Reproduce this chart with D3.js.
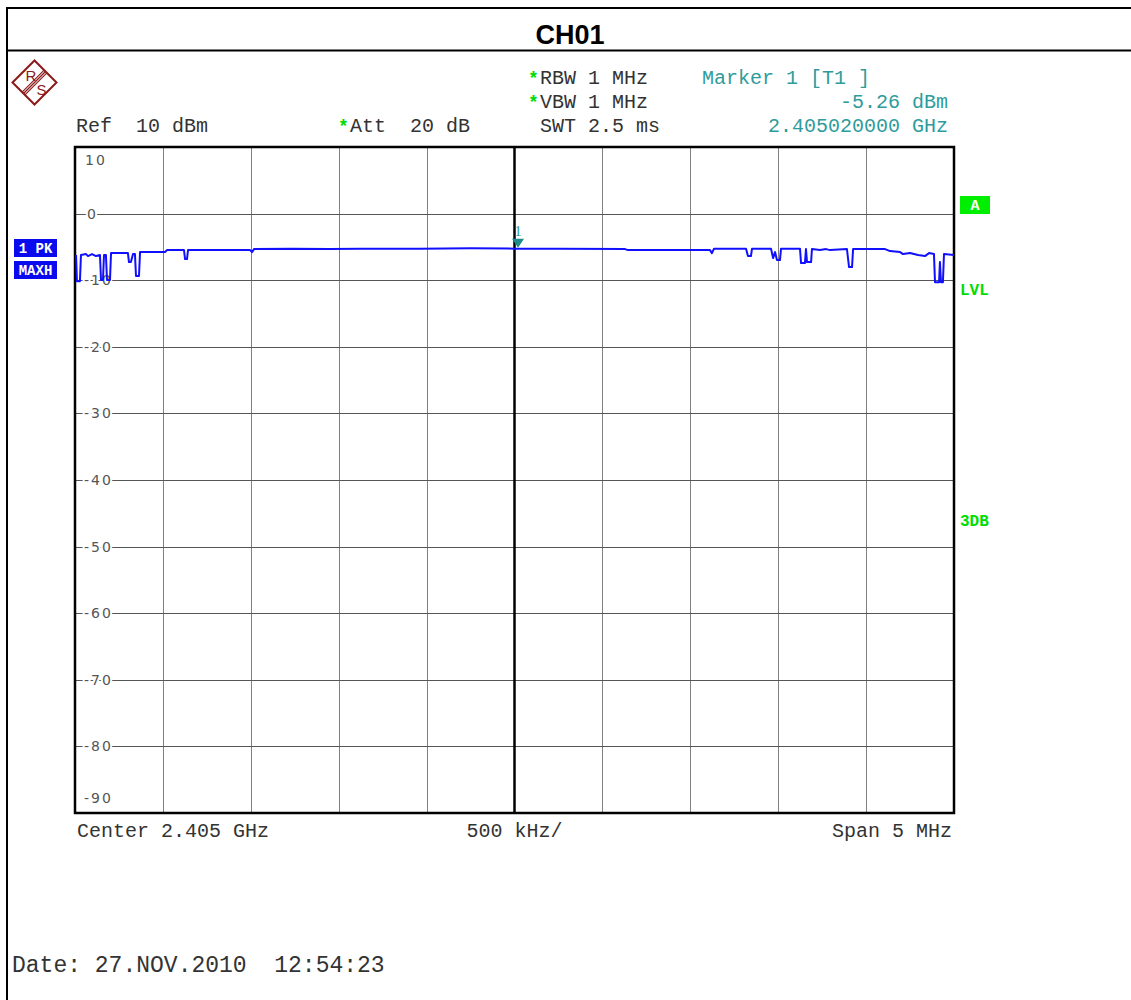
<!DOCTYPE html>
<html>
<head>
<meta charset="utf-8">
<script src="https://cdn.jsdelivr.net/npm/d3@7"></script>
<style>
  body { margin: 0; background: #fff; }
  svg { display: block; }
  text { white-space: pre; }
</style>
</head>
<body>
<svg id="chart" width="1131" height="1000"></svg>
<script>
// trace: frequency offset from center (MHz) and level (dBm)
const traceFreq = [
  -2.494, -2.489, -2.472, -2.466, -2.437, -2.426, -2.403, -2.381, -2.358, -2.352,
  -2.341, -2.335, -2.324, -2.318, -2.301, -2.295, -2.199, -2.193, -2.182, -2.170,
  -2.159, -2.153, -2.136, -2.130, -1.988, -1.976, -1.880, -1.874, -1.863, -1.857,
  -1.504, -1.493, -1.482, -1.270, -1.050, -0.880, -0.540, -0.250, 0.003,
  0.259, 0.629, 0.646, 0.941, 1.112, 1.123, 1.135, 1.317, 1.328, 1.345,
  1.351, 1.459, 1.471, 1.482, 1.493, 1.510, 1.516, 1.624, 1.630, 1.652,
  1.658, 1.664, 1.687, 1.692, 1.738, 1.772, 1.795, 1.891, 1.903, 1.920,
  1.926, 2.108, 2.136, 2.193, 2.210, 2.250, 2.295, 2.335, 2.358, 2.386,
  2.392, 2.415, 2.420, 2.426, 2.437, 2.443, 2.500
];
const traceLevel = [
  -6.23, -10.14, -10.14, -6.23, -6.08, -6.38, -6.08, -6.38, -6.23, -9.98,
  -9.98, -6.23, -6.23, -9.98, -9.98, -5.93, -5.93, -7.28, -7.28, -6.08,
  -6.08, -9.38, -9.38, -5.78, -5.78, -5.48, -5.48, -6.83, -6.83, -5.48,
  -5.48, -5.78, -5.33, -5.26, -5.33, -5.26, -5.26, -5.22, -5.26,
  -5.26, -5.33, -5.48, -5.48, -5.48, -5.93, -5.26, -5.26, -6.38, -6.38,
  -5.26, -5.26, -6.68, -5.78, -6.98, -6.98, -5.26, -5.26, -7.43, -7.43,
  -5.33, -7.28, -7.28, -5.33, -5.48, -5.33, -5.48, -5.33, -8.03, -8.03,
  -5.33, -5.33, -5.63, -5.78, -6.08, -5.93, -6.23, -6.38, -5.93, -6.08,
  -10.29, -10.29, -7.28, -10.29, -10.29, -6.08, -6.23
];

const gridFreq = [-2, -1.5, -1, -0.5, 0.5, 1, 1.5, 2];
const gridLevel = [0, -10, -20, -30, -40, -50, -60, -70, -80];
const levelLabels = [10, 0, -10, -20, -30, -40, -50, -60, -70, -80, -90];

const markerFreq = 0.02;
const markerLevel = -5.26;

const headerRows = [
  { star: false, x: 76, text: 'Ref  10 dBm', row: 2 },
  { star: true, x: 350, text: 'Att  20 dB', row: 2 },
  { star: true, x: 540, text: 'RBW 1 MHz', row: 0 },
  { star: true, x: 540, text: 'VBW 1 MHz', row: 1 },
  { star: false, x: 540, text: 'SWT 2.5 ms', row: 2 }
];
const markerInfo = ['Marker 1 [T1 ]', '-5.26 dBm', '2.405020000 GHz'];

const MONO = '"Courier New", "Liberation Mono", monospace';
const svg = d3.select('#chart');

const plot = { left: 75, right: 954, top: 147, bottom: 813 };

const x = d3.scaleLinear()
    .domain([-2.5, 2.5])
    .range([plot.left, plot.right]);
const y = d3.scaleLinear()
    .domain([-90, 10])
    .range([plot.bottom, plot.top]);

// outer frame + title
svg.append('path')
    .attr('d', 'M7,1000 V8 H1131 M7,50.5 H1131')
    .attr('fill', 'none')
    .attr('stroke', '#000')
    .attr('stroke-width', 2);
svg.append('text')
    .attr('x', 570).attr('y', 44)
    .attr('text-anchor', 'middle')
    .attr('font-family', 'Arial, "Liberation Sans", sans-serif')
    .attr('font-weight', 'bold')
    .attr('font-size', 27)
    .text('CH01');

// R&S logo
let logo = svg.append('g').attr('transform', 'translate(34.5,82.5)');
logo.append('path')
    .attr('d', 'M-22,0 L0,-22 L22,0 L0,22 Z')
    .attr('fill', 'none')
    .attr('stroke', '#8b1a1a')
    .attr('stroke-width', 2);
[-2, 0, 2].forEach(o => {
  logo.append('line')
      .attr('x1', -11 + o * 0.7).attr('y1', 11 + o * 0.7)
      .attr('x2', 11 + o * 0.7).attr('y2', -11 + o * 0.7)
      .attr('stroke', '#8b1a1a').attr('stroke-width', 1.2);
});
logo.append('text').attr('x', -9).attr('y', -2).text('R');
logo.append('text').attr('x', 2).attr('y', 12).text('S');
logo.selectAll('text')
    .attr('font-family', 'Arial, sans-serif')
    .attr('font-size', 15)
    .attr('fill', '#8b1a1a');

// header texts
let rowY = [84, 108, 132];
headerRows.forEach(d => {
  if (d.star) {
    svg.append('text')
        .attr('x', d.x - 12).attr('y', rowY[d.row])
        .attr('font-family', MONO).attr('font-size', 18)
        .attr('font-weight', 'bold')
        .attr('fill', '#00dd00')
        .text('*');
  }
  svg.append('text')
      .attr('x', d.x).attr('y', rowY[d.row])
      .attr('font-family', MONO).attr('font-size', 20)
      .attr('fill', '#333')
      .text(d.text);
});
svg.append('text')
    .attr('x', 702).attr('y', rowY[0])
    .attr('font-family', MONO).attr('font-size', 20)
    .attr('fill', '#2e9c9c')
    .text(markerInfo[0]);
markerInfo.slice(1).forEach((t, i) => {
  svg.append('text')
      .attr('x', 948).attr('y', rowY[i + 1])
      .attr('text-anchor', 'end')
      .attr('font-family', MONO).attr('font-size', 20)
      .attr('fill', '#2e9c9c')
      .text(t);
});

// grid
svg.append('g')
    .selectAll('line')
    .data(gridFreq)
    .join('line')
    .attr('x1', d => Math.round(x(d)) + 0.5).attr('x2', d => Math.round(x(d)) + 0.5)
    .attr('y1', plot.top).attr('y2', plot.bottom)
    .attr('stroke', '#808080').attr('stroke-width', 1);
svg.append('g')
    .selectAll('line')
    .data(gridLevel)
    .join('line')
    .attr('x1', plot.left).attr('x2', plot.right)
    .attr('y1', d => Math.round(y(d)) + 0.5).attr('y2', d => Math.round(y(d)) + 0.5)
    .attr('stroke', '#555').attr('stroke-width', 1);
svg.append('line')
    .attr('x1', x(0)).attr('x2', x(0))
    .attr('y1', plot.top).attr('y2', plot.bottom)
    .attr('stroke', '#000').attr('stroke-width', 2.5);

// level labels
svg.append('g')
    .selectAll('text')
    .data(levelLabels)
    .join('text')
    .attr('x', d => d === 0 ? 87 : (d > 0 ? 85 : 84))
    .attr('y', d => {
      if (d === 10) return y(d) + 18;
      if (d === -90) return y(d) - 10;
      return y(d) + 5;
    })
    .attr('font-family', '"DejaVu Sans", sans-serif')
    .attr('font-size', 14)
    .attr('letter-spacing', 2)
    .attr('fill', '#555')
    .attr('stroke', '#fff').attr('stroke-width', 4)
    .attr('paint-order', 'stroke')
    .text(d => d);

// frame
svg.append('rect')
    .attr('x', plot.left).attr('y', plot.top)
    .attr('width', plot.right - plot.left)
    .attr('height', plot.bottom - plot.top)
    .attr('fill', 'none')
    .attr('stroke', '#000').attr('stroke-width', 2.5);

// trace
let points = traceFreq.map((f, i) => [f, traceLevel[i]]);
let line = d3.line()
    .x(d => x(d[0]))
    .y(d => y(d[1]));
svg.append('path')
    .datum(points)
    .attr('d', line)
    .attr('fill', 'none')
    .attr('stroke', '#1010ff')
    .attr('stroke-width', 2)
    .attr('stroke-linejoin', 'round');

// marker
let mx = x(markerFreq), my = y(markerLevel);
svg.append('path')
    .attr('d', `M${mx - 6},${my - 10} L${mx + 6},${my - 10} L${mx},${my - 1} Z`)
    .attr('fill', '#1e8c8c');
svg.append('text')
    .attr('x', mx).attr('y', my - 13)
    .attr('text-anchor', 'middle')
    .attr('font-family', '"Liberation Serif", serif')
    .attr('font-size', 15)
    .attr('fill', '#2e9c9c')
    .text('1');

// left trace labels
[['1 PK', 239], ['MAXH', 261]].forEach(([t, ty]) => {
  svg.append('rect')
      .attr('x', 14).attr('y', ty)
      .attr('width', 43).attr('height', 18)
      .attr('fill', '#0a0aee');
  svg.append('text')
      .attr('x', 35.5).attr('y', ty + 14)
      .attr('text-anchor', 'middle')
      .attr('font-family', MONO).attr('font-weight', 'bold')
      .attr('font-size', 14)
      .attr('fill', '#fff')
      .text(t);
});

// right side labels
svg.append('rect')
    .attr('x', 960).attr('y', 196)
    .attr('width', 30).attr('height', 18)
    .attr('fill', '#00ee00');
svg.append('text')
    .attr('x', 975).attr('y', 210)
    .attr('text-anchor', 'middle')
    .attr('font-family', MONO).attr('font-weight', 'bold')
    .attr('font-size', 15).attr('fill', '#fff')
    .text('A');
[['LVL', 295], ['3DB', 526]].forEach(([t, ty]) => {
  svg.append('text')
      .attr('x', 960).attr('y', ty)
      .attr('font-family', MONO).attr('font-weight', 'bold')
      .attr('font-size', 16).attr('fill', '#00dd00')
      .text(t);
});

// bottom texts
svg.append('text')
    .attr('x', 77).attr('y', 837)
    .attr('font-family', MONO).attr('font-size', 20).attr('fill', '#333')
    .text('Center 2.405 GHz');
svg.append('text')
    .attr('x', x(0)).attr('y', 837)
    .attr('text-anchor', 'middle')
    .attr('font-family', MONO).attr('font-size', 20).attr('fill', '#333')
    .text('500 kHz/');
svg.append('text')
    .attr('x', 952).attr('y', 837)
    .attr('text-anchor', 'end')
    .attr('font-family', MONO).attr('font-size', 20).attr('fill', '#333')
    .text('Span 5 MHz');
svg.append('text')
    .attr('x', 12).attr('y', 972)
    .attr('font-family', MONO).attr('font-size', 23).attr('fill', '#333')
    .text('Date: 27.NOV.2010  12:54:23');
</script>
</body>
</html>
